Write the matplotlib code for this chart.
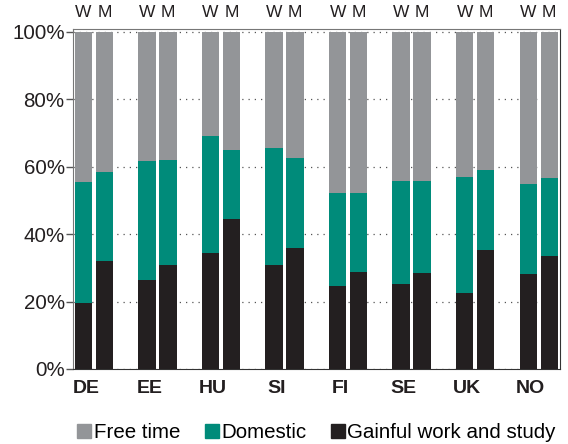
import numpy as np
import matplotlib
matplotlib.use("Agg")
import matplotlib.pyplot as plt
from matplotlib.patches import Patch
from matplotlib import transforms

plt.rcParams['font.family'] = ['Liberation Sans', 'DejaVu Sans']

countries = ["DE", "EE", "HU", "SI", "FI", "SE", "UK", "NO"]
sexes = ["W", "M"]

# percent of time, women / men
work_w = [19.5, 26.4, 34.5, 30.9, 24.6, 25.2, 22.6, 28.2]
work_m = [32.0, 30.9, 44.5, 35.9, 28.8, 28.5, 35.3, 33.5]
domestic_w = [35.8, 35.3, 34.6, 34.7, 27.6, 30.6, 34.4, 26.7]
domestic_m = [26.5, 31.1, 20.5, 26.7, 23.4, 27.3, 23.8, 23.2]

GRAY = "#939598"
TEAL = "#008B7A"
BLACK = "#231F20"

fig = plt.figure(figsize=(5.68, 4.44), dpi=100)
ax = fig.add_axes([0.1285, 0.169, 0.857, 0.765])

x = np.arange(len(countries))
width = 0.275
offset = 0.165

for sx, work, dom in ((-offset, work_w, domestic_w), (offset, work_m, domestic_m)):
    work = np.array(work)
    dom = np.array(dom)
    free = 100 - work - dom
    ax.bar(x + sx, work, width, color=BLACK, zorder=3)
    ax.bar(x + sx, dom, width, bottom=work, color=TEAL, zorder=3)
    ax.bar(x + sx, free, width, bottom=work + dom, color=GRAY, zorder=3)

# W / M labels above the bars
for i in x:
    for sx, s in zip((-offset, offset), sexes):
        ax.text(i + sx, 103.5, s, ha='center', va='bottom', fontsize=12.5,
                color=BLACK, clip_on=False)

ax.set_xlim(-0.33, 7.33)
ax.set_ylim(0, 100.7)
ax.set_yticks([0, 20, 40, 60, 80, 100])
ax.set_yticklabels([f"{v}%" for v in (0, 20, 40, 60, 80, 100)],
                   fontsize=14.8, color=BLACK)
ax.set_xticks(x)
ax.set_xticklabels(countries, fontsize=14, fontweight='bold', color=BLACK)
ax.tick_params(axis='x', length=0, pad=8)
ax.tick_params(axis='y', length=5, width=1, color="#555555", pad=1)

# country labels sit a little left of the group centre
shift = transforms.ScaledTranslation(-0.08, 0, fig.dpi_scale_trans)
for lbl in ax.get_xticklabels():
    lbl.set_transform(lbl.get_transform() + shift)

ax.yaxis.grid(True, linestyle=(0, (1, 4)), color="#555555", linewidth=0.9)
ax.set_axisbelow(True)
for side in ("left", "top"):
    ax.spines[side].set_color("#777777")
for side in ("bottom", "right"):
    ax.spines[side].set_color("#333333")

handles = [Patch(color=GRAY), Patch(color=TEAL), Patch(color=BLACK)]
labels = ["Free time", "Domestic", "Gainful work and study"]
fig.legend(handles, labels, loc='center', bbox_to_anchor=(0.557, 0.025),
           ncol=3, frameon=False, fontsize=14.8, handlelength=0.7,
           handleheight=0.7, handletextpad=0.1, columnspacing=1.2)

fig.savefig("out.png", dpi=100)
